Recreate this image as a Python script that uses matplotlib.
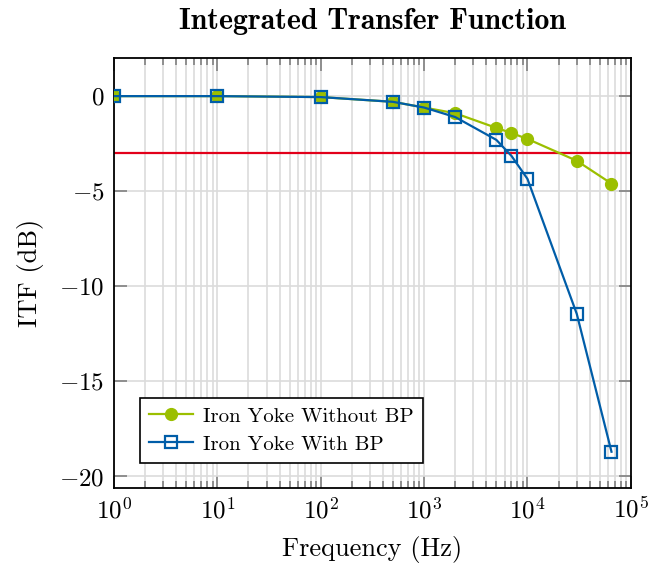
import matplotlib
matplotlib.use("Agg")
import matplotlib.pyplot as plt
from matplotlib.ticker import LogLocator, MultipleLocator, NullFormatter

plt.rcParams['font.family'] = 'serif'
plt.rcParams['font.serif'] = ['cmr10']
plt.rcParams['mathtext.fontset'] = 'cm'
plt.rcParams['axes.formatter.use_mathtext'] = True

# Frequency sweep (Hz) and integrated transfer function (dB)
freq = [1, 10, 100, 500, 1000, 2000, 5000, 7000, 10000, 30000, 65000]
itf_without_bp = [0.0, 0.0, -0.05, -0.3, -0.6, -0.9, -1.67, -1.94, -2.25, -3.4, -4.6]
itf_with_bp = [0.0, 0.0, -0.05, -0.3, -0.6, -1.1, -2.3, -3.14, -4.35, -11.45, -18.7]
cutoff_db = -3

green = '#9bbf00'
blue = '#005da8'
red = '#e2001a'

fig = plt.figure(figsize=(6.51, 5.64), dpi=100)
ax = fig.add_axes([0.175, 0.135, 0.794, 0.762])

ax.set_xscale('log')
ax.set_xlim(1, 1e5)
ax.set_ylim(-20.6, 2)

ax.grid(True, which='major', color='#dcdcdc', lw=1.2, zorder=0)
ax.grid(True, which='minor', axis='x', color='#dcdcdc', lw=1.2, zorder=0)
ax.set_axisbelow(True)

ax.axhline(cutoff_db, color=red, lw=1.6, zorder=2)

ax.plot(freq, itf_without_bp, color=green, lw=1.6, marker='o', ms=8.5,
        mfc=green, mec=green, label='Iron Yoke Without BP', zorder=3)
ax.plot(freq, itf_with_bp, color=blue, lw=1.6, marker='s', ms=8.5,
        mfc='none', mec=blue, mew=1.6, label='Iron Yoke With BP', zorder=4)

ax.xaxis.set_major_locator(LogLocator(base=10, numticks=10))
ax.xaxis.set_minor_locator(LogLocator(base=10, subs=range(2, 10), numticks=20))
ax.xaxis.set_minor_formatter(NullFormatter())
ax.yaxis.set_major_locator(MultipleLocator(5))

ax.tick_params(which='both', direction='in', top=True, right=True, color='#808080')
ax.tick_params(which='major', length=9, width=1.2, labelsize=18, pad=7)
ax.tick_params(which='minor', length=5, width=1.2)

for s in ax.spines.values():
    s.set_linewidth(1.3)
    s.set_color('black')

ax.set_xlabel('Frequency (Hz)', fontsize=19, labelpad=9)
ax.set_ylabel('ITF (dB)', fontsize=19, labelpad=11)
ax.set_title('Integrated Transfer Function', fontsize=21.5, family='cmb10', pad=21)

leg = ax.legend(loc='lower left', bbox_to_anchor=(0.05, 0.058), borderaxespad=0,
                fontsize=15, frameon=True, fancybox=False, edgecolor='black',
                framealpha=1, handlelength=2.1, handletextpad=0.5,
                borderpad=0.45, labelspacing=0.45)
leg.get_frame().set_linewidth(1.2)

fig.savefig('out.png', dpi=100)
